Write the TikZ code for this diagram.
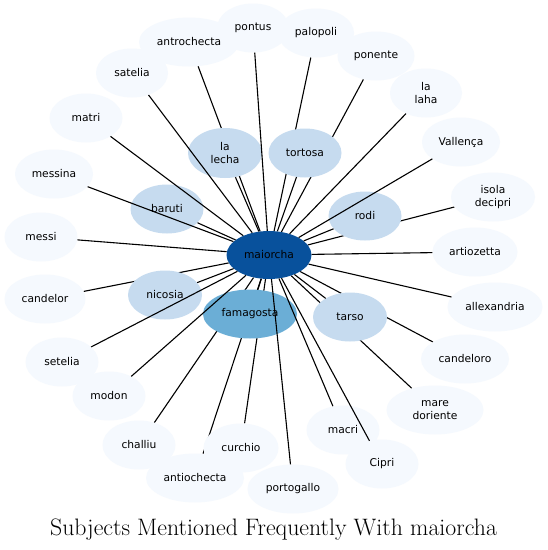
\documentclass[tikz,border=0pt]{standalone}
\usepackage{fontspec}
\newfontfamily\nodefont{DejaVu Sans}
\usetikzlibrary{shapes.geometric}
\pgfdeclarelayer{bg}
\pgfdeclarelayer{paper}
\pgfsetlayers{paper,bg,main}
\definecolor{c0}{HTML}{F5F9FE}
\definecolor{c1}{HTML}{C6DBEF}
\definecolor{c2}{HTML}{6BAED6}
\definecolor{c3}{HTML}{08519C}
\begin{document}
\begin{tikzpicture}[x=1pt,y=-1pt,
  nd/.style={ellipse, inner sep=0pt, minimum height=49pt, align=center, text=black,
    font=\nodefont\fontsize{10.7}{12.5}\selectfont},
  outer/.style={nd, fill=c0},
  mid/.style={nd, fill=c1},
  link/.style={draw=black, line width=1.1pt}]
\begin{pgfonlayer}{paper}
\fill[white] (0,0) rectangle (548,550);
\end{pgfonlayer}
\useasboundingbox (0,0) rectangle (548,550);
% outer nodes
\node[outer, minimum width=72pt] (pontus) at (253,28) {pontus};
\node[outer, minimum width=100pt] (antrochecta) at (189,42) {antrochecta};
\node[outer, minimum width=76pt] (palopoli) at (316,33) {palopoli};
\node[outer, minimum width=77pt] (ponente) at (376,56) {ponente};
\node[outer, minimum width=72pt] (satelia) at (132,73) {satelia};
\node[outer, minimum width=72pt] (lalaha) at (426,93) {la\\laha};
\node[outer, minimum width=73pt] (matri) at (86,118) {matri};
\node[outer, minimum width=78pt] (vallenca) at (461,142) {Vallença};
\node[outer, minimum width=78pt] (messina) at (54,174) {messina};
\node[outer, minimum width=84pt] (isola) at (493,197) {isola\\decipri};
\node[outer, minimum width=73pt] (messi) at (41,237) {messi};
\node[outer, minimum width=85pt] (artiozetta) at (475,252) {artiozetta};
\node[outer, minimum width=81pt] (candelor) at (45,299) {candelor};
\node[outer, minimum width=95pt] (allexandria) at (495,307) {allexandria};
\node[outer, minimum width=88pt] (candeloro) at (465,359) {candeloro};
\node[outer, minimum width=73pt] (setelia) at (62,362) {setelia};
\node[outer, minimum width=73pt] (modon) at (109,396) {modon};
\node[outer, minimum width=97pt] (maredoriente) at (435,410) {mare\\doriente};
\node[outer, minimum width=73pt] (macri) at (343,430) {macri};
\node[outer, minimum width=73pt] (challiu) at (139,445) {challiu};
\node[outer, minimum width=75pt] (curchio) at (241,448) {curchio};
\node[outer, minimum width=73pt] (cipri) at (382,464) {Cipri};
\node[outer, minimum width=98pt] (antiochecta) at (195,478) {antiochecta};
\node[outer, minimum width=91pt] (portogallo) at (293,489) {portogallo};
% middle nodes
\node[mid, minimum width=74pt, minimum height=50pt] (lalecha) at (225,153) {la\\lecha};
\node[mid, minimum width=73pt] (tortosa) at (305,153) {tortosa};
\node[mid, minimum width=73pt] (baruti) at (167,209) {baruti};
\node[mid, minimum width=73pt] (rodi) at (365,216) {rodi};
\node[mid, minimum width=74pt] (nicosia) at (165,295) {nicosia};
\node[mid, minimum width=74pt] (tarso) at (350,317) {tarso};
\node[nd, fill=c2, minimum width=94pt] (famagosta) at (250,314) {famagosta};
\node[nd, fill=c3, minimum width=85pt, minimum height=48pt] (maiorcha) at (269,255) {maiorcha};
% edges hidden beneath nodes
\begin{pgfonlayer}{bg}
\foreach \n in {antrochecta,palopoli,ponente,candelor,isola,candeloro,maredoriente,curchio,antiochecta,challiu}
  \draw[link] (\n) -- (maiorcha);
\end{pgfonlayer}
% edges drawn over nodes
\foreach \n in {pontus,satelia,matri,messina,messi,setelia,modon,portogallo,macri,cipri,allexandria,artiozetta,vallenca,lalaha,lalecha,tortosa,baruti,rodi,nicosia,famagosta,tarso}
  \draw[link] (\n) -- (maiorcha);
% title
\node[anchor=base, font=\fontsize{23.8}{28}\selectfont, inner sep=0pt] (title) at (273.5,535) {Subjects Mentioned Frequently With maiorcha};
\end{tikzpicture}
\end{document}
